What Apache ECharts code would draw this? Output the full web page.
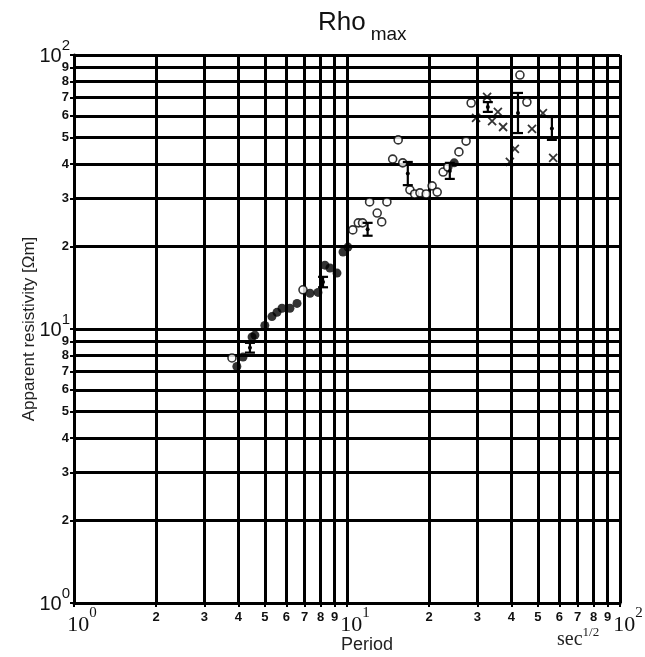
<!DOCTYPE html>
<html>
<head>
<meta charset="utf-8">
<script src="https://cdn.jsdelivr.net/npm/echarts@6/dist/echarts.min.js"></script>
<style>
  html, body { margin: 0; padding: 0; background: #fff; }
  #chart { width: 645px; height: 657px; }
</style>
</head>
<body>
<div id="chart"></div>
<script>
// tick positions on both log axes: digits 2..9 per decade, and the powers of ten
const digitTicks = [2, 3, 4, 5, 6, 7, 8, 9, 20, 30, 40, 50, 60, 70, 80, 90];
const powerTicks = [1, 10, 100];
const allTicks = [1, 2, 3, 4, 5, 6, 7, 8, 9, 10, 20, 30, 40, 50, 60, 70, 80, 90, 100];

// filled circles
const filledPeriod = [3.95, 4.16, 4.49, 4.6, 5.0, 5.31, 5.54, 5.78, 6.18, 6.56, 7.32, 7.83, 8.3, 8.66, 9.19, 9.67, 10.08, 24.7];
const filledRho = [7.3, 7.9, 9.35, 9.5, 10.3, 11.1, 11.5, 11.9, 11.9, 12.4, 13.5, 13.6, 17.1, 16.7, 16.0, 19.1, 19.9, 40.4];

// open circles
const openPeriod = [3.79, 6.9, 10.5, 11.0, 11.4, 12.9, 13.4, 12.1, 14.0, 15.4, 14.7, 16.0, 17.0, 17.7, 18.5, 19.5, 20.5, 21.4, 22.5, 23.4, 25.7, 27.3, 28.5, 43.0, 45.6];
const openRho = [7.84, 13.9, 23.0, 24.4, 24.4, 26.5, 24.6, 29.1, 29.1, 49.0, 41.7, 40.4, 32.2, 31.1, 31.4, 31.1, 33.3, 31.6, 37.4, 39.0, 44.3, 48.5, 66.8, 84.5, 67.3];

// crosses
const crossPeriod = [29.7, 32.6, 35.7, 34.0, 37.3, 47.6, 41.2, 39.5, 52.2, 56.9];
const crossRho = [58.9, 70.3, 62.0, 57.4, 54.6, 53.7, 45.4, 40.7, 61.4, 42.1];

// error bars
const barPeriod = [4.41, 8.17, 11.9, 16.7, 23.8, 32.8, 42.3, 56.3];
const barLow = [8.2, 14.2, 21.9, 33.5, 35.3, 62.0, 51.9, 49.0];
const barHigh = [8.9, 15.5, 24.4, 40.7, 40.4, 67.3, 72.7, 59.4];

const zip = (a, b) => a.map((v, i) => [v, b[i]]);

const expOf = (v) => Math.round(Math.log10(v));
const digitOf = (v) => String(Math.round(v / Math.pow(10, Math.floor(Math.log10(v) + 1e-9))));

const chart = echarts.init(document.getElementById('chart'));

const black = '#000';
const gridLine = { show: true, lineStyle: { color: black, width: 3 } };
const hidden = { show: false };

// shared settings of the axes that carry lines and digit labels
function digitAxis(extra) {
    return Object.assign({
        type: 'log',
        logBase: 10,
        min: 1,
        max: 100,
        nameLocation: 'middle',
        nameMoveOverlap: false,
        axisLine: { show: true, lineStyle: { color: black, width: 3 } },
        axisTick: { show: true, customValues: allTicks, length: 4, lineStyle: { color: black, width: 2 } },
        splitLine: gridLine
    }, extra);
}

// overlay axes that only carry the 10^n labels
function powerAxis(extra) {
    return Object.assign({
        type: 'log',
        logBase: 10,
        min: 1,
        max: 100,
        axisLine: hidden,
        axisTick: hidden,
        splitLine: hidden
    }, extra);
}

chart.setOption({
    backgroundColor: '#fff',
    animation: false,
    title: {
        text: '{r|Rho}{m|max}',
        left: 313,
        top: 5,
        textStyle: {
            rich: {
                r: { fontFamily: 'Liberation Sans', fontSize: 26, fontWeight: 'normal', color: '#111', lineHeight: 34, verticalAlign: 'top' },
                m: { fontFamily: 'Liberation Sans', fontSize: 19, fontWeight: 'normal', color: '#111', lineHeight: 34, verticalAlign: 'bottom', padding: [16, 0, 0, 5] }
            }
        }
    },
    grid: { left: 74, right: 25, top: 55, bottom: 54, outerBoundsMode: 'none' },
    xAxis: [
        digitAxis({
            name: 'Period',
            nameGap: 33,
            nameTextStyle: { fontFamily: 'Liberation Sans', fontSize: 18, color: '#222', padding: [0, 0, 0, 40] },
            axisLabel: {
                customValues: digitTicks,
                hideOverlap: false,
                margin: 8,
                fontFamily: 'Liberation Sans',
                fontSize: 13,
                fontWeight: 'bold',
                color: '#111',
                formatter: digitOf
            }
        }),
        powerAxis({
            position: 'bottom',
            axisLabel: {
                customValues: powerTicks,
                showMinLabel: true,
                showMaxLabel: true,
                hideOverlap: false,
                margin: 3,
                formatter: (v) => '{sp|}{b|10}{s|' + expOf(v) + '}',
                rich: {
                    sp: { width: 16 },
                    b: { fontFamily: 'Liberation Serif', fontSize: 22, color: '#111', lineHeight: 30, verticalAlign: 'bottom', padding: [10, 0, 0, 0] },
                    s: { fontFamily: 'Liberation Serif', fontSize: 15, color: '#111', lineHeight: 30, verticalAlign: 'top' }
                }
            }
        })
    ],
    yAxis: [
        digitAxis({
            name: 'Apparent resistivity [Ωm]',
            nameGap: 36,
            nameTextStyle: { fontFamily: 'Liberation Sans', fontSize: 17, color: '#222' },
            axisLabel: {
                customValues: digitTicks,
                hideOverlap: false,
                margin: 5,
                fontFamily: 'Liberation Sans',
                fontSize: 13,
                fontWeight: 'bold',
                color: '#111',
                padding: [0, 0, 3, 0],
                formatter: digitOf
            }
        }),
        powerAxis({
            position: 'left',
            axisLabel: {
                customValues: powerTicks,
                showMinLabel: true,
                showMaxLabel: true,
                hideOverlap: false,
                margin: 4,
                padding: [0, 0, 6, 0],
                formatter: (v) => '{b|10}{s|' + expOf(v) + '}',
                rich: {
                    b: { fontFamily: 'Liberation Sans', fontSize: 20, color: '#111', lineHeight: 28, verticalAlign: 'bottom' },
                    s: { fontFamily: 'Liberation Sans', fontSize: 15, color: '#111', lineHeight: 28, verticalAlign: 'top', padding: [0, 0, 10, 0] }
                }
            }
        })
    ],
    graphic: [
        {
            type: 'text',
            left: 557,
            top: 626,
            style: {
                text: '{a|sec}{b|1/2}',
                rich: {
                    a: { fontFamily: 'Liberation Serif', fontSize: 20, fill: '#222', lineHeight: 24, verticalAlign: 'bottom' },
                    b: { fontFamily: 'Liberation Serif', fontSize: 13, fill: '#222', lineHeight: 24, verticalAlign: 'top' }
                }
            }
        }
    ],
    series: [
        {
            name: 'filled',
            type: 'scatter',
            data: zip(filledPeriod, filledRho),
            symbol: 'circle',
            symbolSize: 9,
            itemStyle: { color: black },
            z: 5
        },
        {
            name: 'open',
            type: 'scatter',
            data: zip(openPeriod, openRho),
            symbol: 'circle',
            symbolSize: 8,
            itemStyle: { color: '#fff', borderColor: black, borderWidth: 1.6 },
            z: 5
        },
        {
            name: 'cross',
            type: 'scatter',
            data: zip(crossPeriod, crossRho),
            symbol: 'path://M0,0L10,10M10,0L0,10',
            symbolSize: 8,
            itemStyle: { color: 'none', borderColor: black, borderWidth: 1.8 },
            z: 5
        },
        {
            name: 'errorbar',
            type: 'custom',
            data: barPeriod.map((p, i) => [p, barLow[i], barHigh[i]]),
            z: 6,
            renderItem: (params, api) => {
                const lo = api.coord([api.value(0), api.value(1)]);
                const hi = api.coord([api.value(0), api.value(2)]);
                const st = { stroke: black, lineWidth: 2.2 };
                const hw = 5;
                return {
                    type: 'group',
                    children: [
                        { type: 'line', shape: { x1: lo[0], y1: lo[1], x2: hi[0], y2: hi[1] }, style: st },
                        { type: 'line', shape: { x1: lo[0] - hw, y1: lo[1], x2: lo[0] + hw, y2: lo[1] }, style: st },
                        { type: 'line', shape: { x1: hi[0] - hw, y1: hi[1], x2: hi[0] + hw, y2: hi[1] }, style: st },
                        { type: 'circle', shape: { cx: lo[0], cy: (lo[1] + hi[1]) / 2, r: 2 }, style: { fill: black } }
                    ]
                };
            }
        }
    ]
});
</script>
</body>
</html>
